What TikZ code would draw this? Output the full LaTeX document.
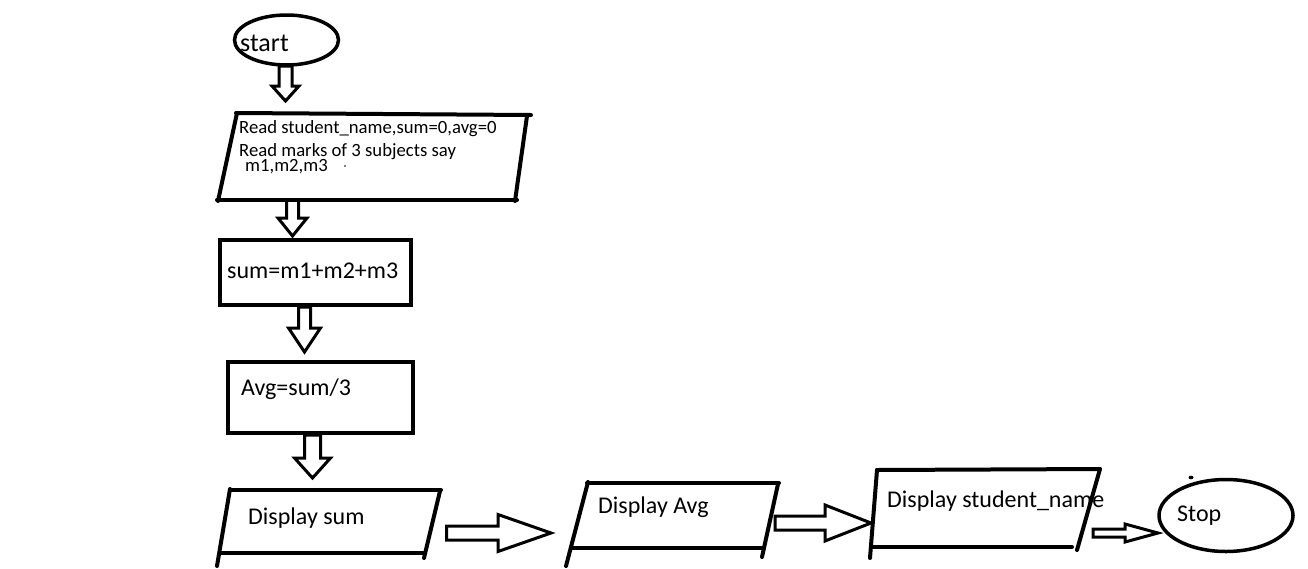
\documentclass[tikz,border=0pt]{standalone}
\usepackage{fontspec}
\setmainfont{Carlito}
\newcommand\blockdown[6]{\draw[barrow] (#1-#5,#2) -- (#1-#5,#3) -- (#1-#6,#3) -- (#1,#4) -- (#1+#6,#3) -- (#1+#5,#3) -- (#1+#5,#2) -- cycle;}
\newcommand\blockright[6]{\draw[barrow] (#2,#1-#5) -- (#3,#1-#5) -- (#3,#1-#6) -- (#4,#1) -- (#3,#1+#6) -- (#3,#1+#5) -- (#2,#1+#5) -- cycle;}
\begin{document}
\begin{tikzpicture}[x=1pt,y=-1pt,
  outline/.style={line width=4pt, line cap=round},
  barrow/.style={line width=3pt, line join=miter},
  txt/.style={anchor=base west, inner sep=0pt, font=\fontsize{24}{28}\selectfont},
  small/.style={anchor=base west, inner sep=0pt, font=\fontsize{18.7}{22}\selectfont}]
\useasboundingbox (0,0) rectangle (1308,568);
% start
\draw[line width=3.5pt] (286.5,40) ellipse [x radius=52, y radius=25];
\node[txt, font=\fontsize{26}{30}\selectfont] (start) at (240,51) {start};
\blockdown{285.5}{66}{86}{101}{6.5}{13.5}
% read parallelogram
\draw[outline] (236,113) -- (531,115);
\draw[outline] (527,116) -- (515,201);
\draw[outline] (217,200) -- (517,200);
\draw[outline] (237,113) -- (218,201);
\node[small] (read1) at (239,133) {Read student\_name,sum=0,avg=0};
\node[small] (read2) at (239,156) {Read marks of 3 subjects say};
\node[small] (read3) at (245,171) {m1,m2,m3};
\fill (345,166) circle [radius=0.8];
\blockdown{292.5}{200}{218}{236}{6}{14.5}
% sum box
\draw[outline, line cap=butt] (220,240) rectangle (411,305);
\node[txt] (sum) at (227,278) {sum=m1+m2+m3};
\blockdown{304.5}{307}{328}{352}{6}{16}
% avg box
\draw[outline, line cap=butt] (228,362) rectangle (413,433);
\node[txt] (avg) at (241,395) {Avg=sum/3};
\blockdown{312.5}{435}{458}{478}{8}{18}
% display sum
\draw[outline] (230,490) -- (441,490);
\draw[outline] (440,491) -- (424,558);
\draw[outline] (220,553) -- (423,553);
\draw[outline] (230,489) -- (217,566);
\node[txt] (dsum) at (248,524) {Display sum};
\blockright{533}{446.5}{498}{551}{7}{18.5}
% display avg
\draw[outline] (587,483) -- (779,483);
\draw[outline] (778,484) -- (762,557);
\draw[outline] (572,548) -- (762,548);
\draw[outline] (588,482) -- (566,566);
\node[txt] (davg) at (598,513) {Display Avg};
\blockright{523}{775}{825}{871}{7}{18}
% display student name
\draw[outline] (877,470) -- (1100,469);
\draw[outline] (1100,469) -- (1077,550);
\draw[outline] (873,547) -- (1072,547);
\draw[outline] (877,470) -- (870,558);
\node[txt] (dname) at (887,507) {Display student\_name};
\blockright{533}{1093}{1125}{1158}{4}{9}
% stop
\draw[line width=3.5pt] (1226,515.5) ellipse [x radius=67, y radius=36];
\node[txt] (stop) at (1177,521) {Stop};
\fill (1191,477.5) ellipse [x radius=2.5, y radius=1.8];
\end{tikzpicture}
\end{document}
